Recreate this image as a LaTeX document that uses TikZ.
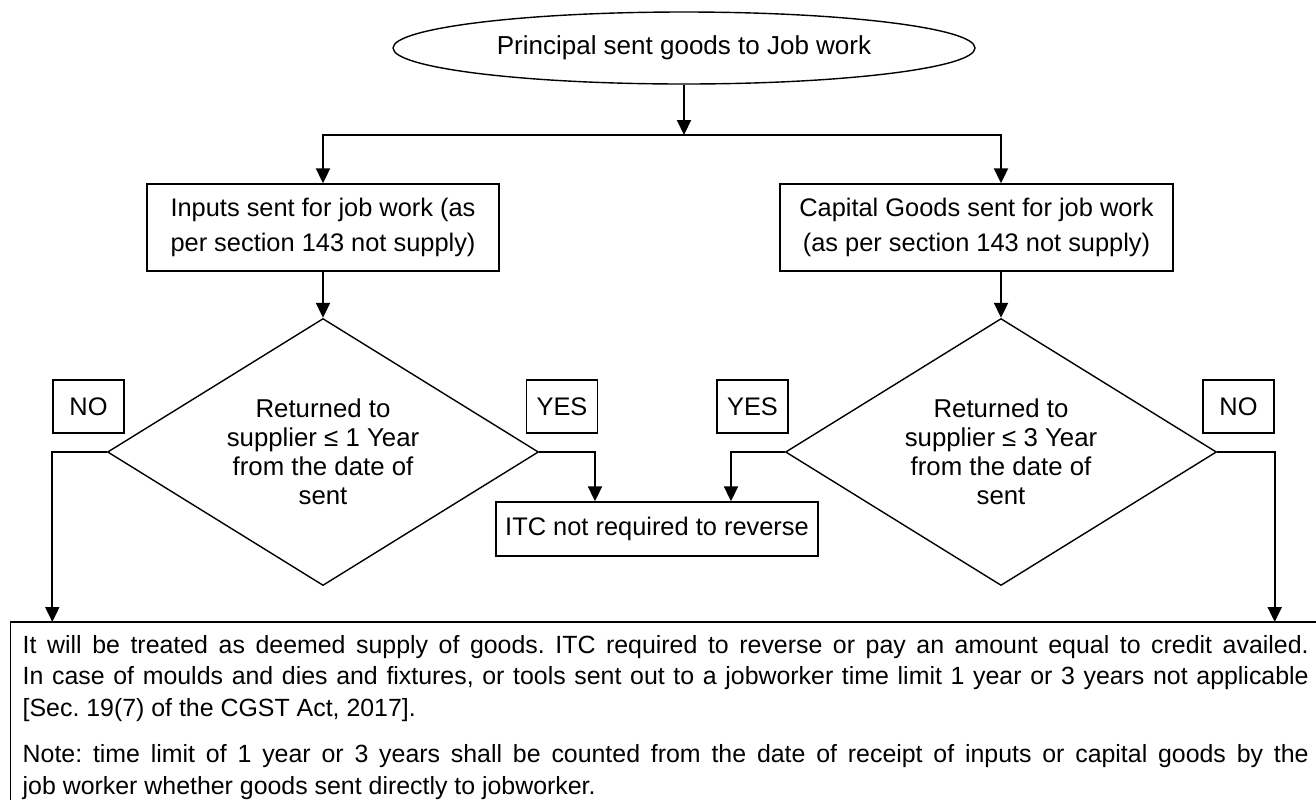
\documentclass[tikz,border=0pt]{standalone}
\usepackage{fontspec}
\setmainfont{Liberation Sans}
\usetikzlibrary{positioning,calc,shapes.geometric,arrows.meta}
\frenchspacing

\begin{document}
\begin{tikzpicture}[x=0.5pt,y=-0.5pt,>={Triangle[length=7.5pt,width=7pt]},
      box/.style={draw,line width=0.7pt,align=center,inner sep=0pt,
                  font=\fontsize{12.7}{17.5}\selectfont},
      decision/.style={diamond,draw,line width=0.7pt,aspect=1.6,inner sep=0pt,
                  minimum width=215.5pt,minimum height=133.5pt,align=center,
                  font=\fontsize{12.9}{14.5}\selectfont},
      tag/.style={draw,line width=0.7pt,minimum width=35.5pt,minimum height=26.5pt,
                  inner sep=0pt,font=\fontsize{12.7}{15}\selectfont},
      link/.style={->,line width=1pt}]
    \useasboundingbox (0,0) rectangle (1316,799);
    \node[ellipse,draw,line width=0.7pt,minimum width=291pt,minimum height=36pt,inner sep=0pt,
          font=\fontsize{13}{15}\selectfont] (start) at (684,48) {Principal sent goods to Job work};
    \node[box,minimum width=176pt,minimum height=43.5pt] (inputs) at (323,227.5)
          {Inputs sent for job work (as\\per section 143 not supply)};
    \node[box,minimum width=196.5pt,minimum height=43.5pt] (capital) at (976.5,227.5)
          {Capital Goods sent for job work\\(as per section 143 not supply)};
    \node[decision] (ret1) at (323,452) {Returned to\\supplier ≤ 1 Year\\from the date of\\sent};
    \node[decision] (ret3) at (1001,452) {Returned to\\supplier ≤ 3 Year\\from the date of\\sent};
    \node[tag] (no1) at (88.5,406.5) {NO};
    \node[tag] (yes1) at (562,406.5) {YES};
    \node[tag] (yes3) at (752.5,406.5) {YES};
    \node[tag] (no3) at (1238.5,406.5) {NO};
    \node[box,minimum width=161pt,minimum height=27pt] (itc) at (657,529) {ITC not required to reverse};
    \node[draw,line width=0.7pt,anchor=north west,
          text width=643pt,align=justify,inner xsep=6pt,inner ysep=6.3pt,
          font=\fontsize{12.45}{15.75}\selectfont] (deemed) at (10,622)
          {It will be treated as deemed supply of goods. ITC required to reverse or pay an amount equal to credit availed.\linebreak
           In case of moulds and dies and fixtures, or tools sent out to a jobworker time limit 1 year or 3 years not applicable\linebreak
           {[Sec. 19(7) of the CGST Act, 2017].}\par\vspace{7.5pt}
           Note: time limit of 1 year or 3 years shall be counted from the date of receipt of inputs or capital goods by the\linebreak
           job worker whether goods sent directly to jobworker.};
    \draw[line width=1.4pt] (deemed.north west) -- (deemed.north east);
    \coordinate (fork) at (684,135);
    \draw[link] (start) -- (fork);
    \draw[link] (fork) -| (inputs.north);
    \draw[link] (fork) -| (capital.north -| ret3.north);
    \draw[link] (inputs) -- (ret1);
    \draw[link] (capital.south -| ret3.north) -- (ret3.north);
    \draw[link] (ret1.east) -| ([xshift=-31pt]itc.north);
    \draw[link] (ret3.west) -| ([xshift=37pt]itc.north);
    \draw[link] (ret1.west) -| (no1.west |- deemed.north);
    \draw[link] (ret3.east) -| (no3.east |- deemed.north);
  \end{tikzpicture}
\end{document}
